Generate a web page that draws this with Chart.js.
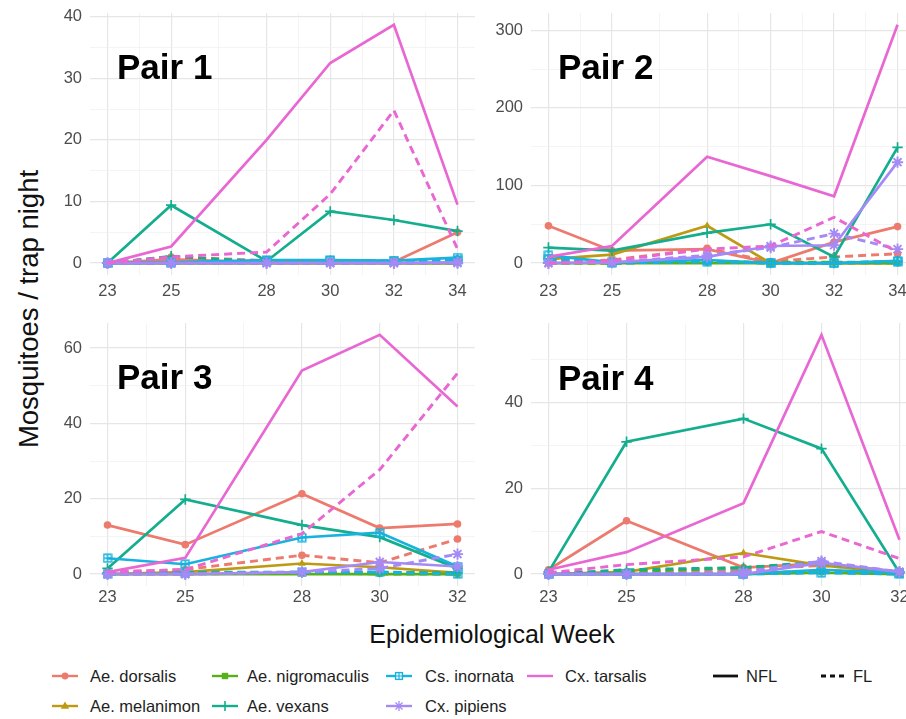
<!DOCTYPE html>
<html>
<head>
<meta charset="utf-8">
<title>Mosquitoes per trap night by epidemiological week</title>
<script src="https://cdn.jsdelivr.net/npm/chart.js@4.4.1/dist/chart.umd.min.js"></script>
<style>
  html, body { margin: 0; padding: 0; background: #fff; width: 906px; height: 719px; overflow: hidden; }
  body { position: relative; font-family: "Liberation Sans", Arial, Helvetica, sans-serif; }
  canvas { position: absolute; z-index: 1; }
  .pair { position: absolute; z-index: 2; font-weight: bold; font-size: 35px; line-height: 35px; color: #000; white-space: nowrap; }
  .ytitle { position: absolute; left: 29px; top: 309px; font-size: 27.5px; line-height: 27.5px; color: #111;
            white-space: nowrap; transform: translate(-50%, -50%) rotate(-90deg); }
  .xtitle { position: absolute; left: 492px; top: 622px; font-size: 25px; line-height: 25px; color: #111;
            white-space: nowrap; transform: translateX(-50%); }
  .lg-text { position: absolute; font-size: 16.5px; line-height: 16.5px; color: #1e1e1e; white-space: nowrap; }
  .lg-key { position: absolute; width: 26px; height: 14px; }
</style>
</head>
<body>

<div class="pair" style="left:117px; top:49px;">Pair 1</div>
<div class="pair" style="left:558px; top:49px;">Pair 2</div>
<div class="pair" style="left:117px; top:359px;">Pair 3</div>
<div class="pair" style="left:558px; top:360px;">Pair 4</div>
<div class="ytitle">Mosquitoes / trap night</div>
<div class="xtitle">Epidemiological Week</div>
<div id="legend"></div>

<script>
// ---- data -------------------------------------------------------------
const species = ['Ae. dorsalis', 'Ae. melanimon', 'Ae. nigromaculis', 'Ae. vexans',
                 'Cs. inornata', 'Cx. pipiens', 'Cx. tarsalis'];
const speciesColors = ['#EC7A6D', '#BE9A12', '#56B01A', '#14AE8E', '#17B2DE', '#A58AF5', '#E967D3'];
const speciesShapes = ['circle', 'triangle', 'square', 'plus', 'squarePlus', 'asterisk', 'none'];

const weeksLong = [23, 25, 28, 30, 32, 34];
const weeksShort = [23, 25, 28, 30, 32];
const weekTicksLong = [23, 25, 28, 30, 32, 34];
const weekTicksShort = [23, 25, 28, 30, 32];

// rows follow the species order above; NFL = solid, FL = dashed
const pair1NFL = [
  [0, 0.6, 0.1, 0.1, 0.2, 5.0],
  [0, 0, 0, 0, 0, 0],
  [0, 0, 0, 0, 0, 0],
  [0, 9.4, 0.3, 8.4, 7.0, 5.2],
  [0, 0.1, 0.5, 0.5, 0.4, 0.9],
  [0, 0, 0, 0, 0, 0.1],
  [0, 2.7, 20.0, 32.5, 38.7, 9.5]
];
const pair1FL = [
  [0, 1.0, 0.4, 0.3, 0.3, 0.6],
  [0, 0, 0, 0, 0, 0],
  [0, 0, 0, 0, 0, 0],
  [0, 1.1, 0.2, 0.4, 0.3, 0.5],
  [0, 0, 0.4, 0.4, 0.3, 0.5],
  [0, 0, 0, 0, 0, 0],
  [0, 1.0, 1.8, 11.2, 24.8, 2.3]
];
const pair2NFL = [
  [48, 16, 18, 0, 27, 47],
  [5, 11, 48, 0, 0, 0],
  [0, 0, 0, 0, 0, 0],
  [20, 16, 39, 50, 8, 149],
  [10, 1, 4, 0, 0, 3],
  [0, 1, 8, 22, 23, 130],
  [8, 22, 137, 112, 86, 307]
];
const pair2FL = [
  [0, 4, 19, 2, 8, 12],
  [0, 0, 2, 0, 0, 0],
  [0, 0, 2, 1, 1, 1],
  [5, 0, 3, 0, 0, 2],
  [5, 0, 2, 0, 0, 2],
  [0, 1, 10, 20, 38, 18],
  [0, 3, 18, 22, 59, 14]
];
const pair3NFL = [
  [13, 7.8, 21.3, 12.2, 13.3],
  [0, 0.5, 2.8, 1.8, 0.3],
  [0, 0, 0, 0, 0],
  [1.5, 19.8, 13, 9.8, 1.5],
  [4.2, 2.6, 9.7, 11, 2],
  [0, 0, 0.5, 3.2, 2],
  [0.5, 4.3, 54, 63.5, 44.5]
];
const pair3FL = [
  [0.5, 1.2, 5, 3, 9.3],
  [0, 0, 0.3, 0.3, 0],
  [0, 0.3, 0.3, 0, 0],
  [0.3, 0.5, 0.5, 0.5, 0.3],
  [0, 0.2, 0.5, 0.5, 0],
  [0, 0, 0.5, 1.5, 5.3],
  [0.5, 1.2, 10.7, 27.7, 53.3]
];
const pair4NFL = [
  [1, 12.4, 1.5, 2.5, 0.5],
  [0, 0.5, 4.9, 2, 0.3],
  [0, 0, 0, 0.3, 0],
  [0.5, 30.8, 36.2, 29.2, 0.3],
  [0, 0, 0, 1, 0.3],
  [0, 0, 0, 2.6, 0.5],
  [1, 5.1, 16.5, 55.7, 8]
];
const pair4FL = [
  [0.3, 0.5, 1, 2, 0.5],
  [0, 0, 0.5, 0.5, 0],
  [0, 0.5, 1.5, 2.5, 0.3],
  [0, 1, 1.5, 2.8, 0.3],
  [0, 0, 0, 0.3, 0],
  [0, 0, 0.5, 3, 0.5],
  [0.3, 2.2, 4, 9.9, 3.6]
];

const yTicks1 = [0, 10, 20, 30, 40];
const yTicks2 = [0, 100, 200, 300];
const yTicks3 = [0, 20, 40, 60];
const yTicks4 = [0, 20, 40];

// ---- drawing helpers --------------------------------------------------
const FONT = '"Liberation Sans", Arial, Helvetica, sans-serif';
const Y_AXIS_W = 60, X_AXIS_H = 30, PAD_TOP = 15;

// square with a plus inside, used as the Cs. inornata marker
function squarePlusImage(color) {
  const c = document.createElement('canvas');
  c.width = 10; c.height = 10;
  const g = c.getContext('2d');
  g.strokeStyle = color; g.lineWidth = 1.5;
  g.strokeRect(1.2, 1.2, 7.6, 7.6);
  g.beginPath(); g.moveTo(5, 1.2); g.lineTo(5, 8.8); g.moveTo(1.2, 5); g.lineTo(8.8, 5); g.stroke();
  return c;
}

function pointOptions(i) {
  const col = speciesColors[i];
  switch (speciesShapes[i]) {
    case 'circle':     return { pointStyle: 'circle', pointRadius: 3.8, pointBorderWidth: 0 };
    case 'triangle':   return { pointStyle: 'triangle', pointRadius: 4.4, pointBorderWidth: 0 };
    case 'square':     return { pointStyle: 'rect', pointRadius: 3.6, pointBorderWidth: 0 };
    case 'plus':       return { pointStyle: 'cross', pointRadius: 5.2, pointBorderWidth: 1.7 };
    case 'squarePlus': return { pointStyle: squarePlusImage(col), pointRadius: 5, pointBorderWidth: 0 };
    case 'asterisk':   return { pointStyle: 'star', pointRadius: 5.6, pointBorderWidth: 1.9 };
    default:           return { pointStyle: false, pointRadius: 0 };
  }
}

// minor grid positions sit halfway between consecutive major ticks
function midpoints(arr) {
  const out = [];
  for (let i = 0; i < arr.length - 1; i++) out.push((arr[i] + arr[i + 1]) / 2);
  return out;
}

function buildDatasets(weeks, nfl, fl) {
  const sets = [];
  // Chart.js paints dataset 0 last, so the final species ends up on top
  for (let s = species.length - 1; s >= 0; s--) {
    [['NFL', nfl], ['FL', fl]].forEach(([kind, table]) => {
      sets.push(Object.assign({
        label: species[s] + ' ' + kind,
        data: weeks.map((w, k) => ({ x: w, y: table[s][k] })),
        borderColor: speciesColors[s],
        backgroundColor: speciesColors[s],
        borderWidth: kind === 'FL' ? 2.9 : 2.7,
        borderDash: kind === 'FL' ? [8, 5] : [],
        tension: 0,
        fill: false
      }, pointOptions(s)));
    });
  }
  return sets;
}

function makePanel(area, weeks, xMajors, nfl, fl, yMajors, xLabelPad) {
  const canvas = document.createElement('canvas');
  const w = area.R - area.L + Y_AXIS_W;
  const h = area.B - area.T + PAD_TOP + X_AXIS_H;
  canvas.width = w; canvas.height = h;
  canvas.style.width = w + 'px'; canvas.style.height = h + 'px';
  canvas.style.left = (area.L - Y_AXIS_W) + 'px';
  canvas.style.top = (area.T - PAD_TOP) + 'px';
  document.body.appendChild(canvas);

  const xLo = weeks[0], xHi = weeks[weeks.length - 1];
  const xPad = (xHi - xLo) * 0.05;
  const yTop = Math.max(...nfl.flat(), ...fl.flat());
  const xMinors = midpoints(xMajors);
  let yMinors = midpoints(yMajors);
  const step = yMajors[1] - yMajors[0];
  if (yMajors[yMajors.length - 1] + step / 2 <= yTop * 1.05) yMinors.push(yMajors[yMajors.length - 1] + step / 2);

  const gridColor = (majors) => (ctx) => majors.includes(ctx.tick.value) ? '#e6e6e6' : '#f1f1f1';
  const gridWidth = (majors) => (ctx) => majors.includes(ctx.tick.value) ? 1.2 : 0.8;

  new Chart(canvas, {
    type: 'line',
    data: { datasets: buildDatasets(weeks, nfl, fl) },
    options: {
      responsive: false,
      animation: false,
      devicePixelRatio: 1,
      layout: { autoPadding: false, padding: { top: PAD_TOP, left: 0, right: 0, bottom: 0 } },
      plugins: { legend: { display: false }, tooltip: { enabled: false } },
      events: [],
      scales: {
        x: {
          type: 'linear',
          min: xLo - xPad,
          max: xHi + xPad,
          afterBuildTicks: (sc) => { sc.ticks = [...xMajors, ...xMinors].sort((a, b) => a - b).map(v => ({ value: v })); },
          afterFit: (sc) => { sc.height = X_AXIS_H; },
          ticks: {
            autoSkip: false, maxRotation: 0, padding: xLabelPad,
            color: '#4d4d4d', font: { family: FONT, size: 16.5 },
            callback: (v) => xMajors.includes(v) ? String(v) : ''
          },
          grid: { color: gridColor(xMajors), lineWidth: gridWidth(xMajors), drawTicks: false },
          border: { display: false }
        },
        y: {
          type: 'linear',
          min: -yTop * 0.05,
          max: yTop * 1.05,
          afterBuildTicks: (sc) => { sc.ticks = [...yMajors, ...yMinors].sort((a, b) => a - b).map(v => ({ value: v })); },
          afterFit: (sc) => { sc.width = Y_AXIS_W; },
          ticks: {
            autoSkip: false, padding: 8,
            color: '#4d4d4d', font: { family: FONT, size: 16.5 },
            callback: (v) => yMajors.includes(v) ? String(v) : ''
          },
          grid: { color: gridColor(yMajors), lineWidth: gridWidth(yMajors), drawTicks: false },
          border: { display: false }
        }
      }
    }
  });
}

makePanel({ L: 90,  R: 475, T: 10,  B: 275 }, weeksLong,  weekTicksLong,  pair1NFL, pair1FL, yTicks1, 7);
makePanel({ L: 531, R: 915, T: 10,  B: 275 }, weeksLong,  weekTicksLong,  pair2NFL, pair2FL, yTicks2, 7);
makePanel({ L: 90,  R: 475, T: 320, B: 586 }, weeksShort, weekTicksShort, pair3NFL, pair3FL, yTicks3, 2);
makePanel({ L: 531, R: 917, T: 320, B: 586 }, weeksShort, weekTicksShort, pair4NFL, pair4FL, yTicks4, 2);

// ---- legend -----------------------------------------------------------
function markerSvg(shape, col) {
  switch (shape) {
    case 'circle':     return `<circle cx="13" cy="7" r="3.4" fill="${col}"/>`;
    case 'triangle':   return `<polygon points="13,2.6 17.2,9.8 8.8,9.8" fill="${col}"/>`;
    case 'square':     return `<rect x="9.8" y="3.8" width="6.4" height="6.4" fill="${col}"/>`;
    case 'plus':       return `<path d="M13 2v10M8 7h10" stroke="${col}" stroke-width="1.6"/>`;
    case 'squarePlus': return `<rect x="9.6" y="3.6" width="6.8" height="6.8" fill="#fff" stroke="${col}" stroke-width="1.4"/><path d="M13 3.6v6.8M9.6 7h6.8" stroke="${col}" stroke-width="1.2"/>`;
    case 'asterisk':   return `<path d="M13 2v10M8 7h10M9.5 3.5l7 7M16.5 3.5l-7 7" stroke="${col}" stroke-width="1.3"/>`;
    default:           return '';
  }
}

const legendSlots = [
  { idx: 0, key: 52,  text: 90,  row: 0 },
  { idx: 2, key: 212, text: 247, row: 0 },
  { idx: 4, key: 386, text: 425, row: 0 },
  { idx: 6, key: 527, text: 565, row: 0 },
  { idx: 1, key: 52,  text: 90,  row: 1 },
  { idx: 3, key: 212, text: 247, row: 1 },
  { idx: 5, key: 386, text: 425, row: 1 }
];
const rowCenters = [676, 706];
const legend = document.getElementById('legend');
let html = '';
legendSlots.forEach(sl => {
  const col = speciesColors[sl.idx];
  const cy = rowCenters[sl.row];
  html += `<svg class="lg-key" style="left:${sl.key}px; top:${cy - 7}px" viewBox="0 0 26 14">` +
          `<line x1="0" y1="7" x2="26" y2="7" stroke="${col}" stroke-width="2.4"/>` +
          markerSvg(speciesShapes[sl.idx], col) + `</svg>`;
  html += `<div class="lg-text" style="left:${sl.text}px; top:${cy - 8}px">${species[sl.idx]}</div>`;
});
// line-type keys
html += `<svg class="lg-key" style="left:713px; top:${rowCenters[0] - 7}px" viewBox="0 0 26 14">` +
        `<line x1="0" y1="7" x2="25" y2="7" stroke="#111" stroke-width="2.8"/></svg>`;
html += `<div class="lg-text" style="left:746px; top:${rowCenters[0] - 8}px">NFL</div>`;
html += `<svg class="lg-key" style="left:821px; top:${rowCenters[0] - 7}px" viewBox="0 0 26 14">` +
        `<line x1="0" y1="7" x2="26" y2="7" stroke="#111" stroke-width="2.8" stroke-dasharray="5 4"/></svg>`;
html += `<div class="lg-text" style="left:853px; top:${rowCenters[0] - 8}px">FL</div>`;
legend.innerHTML = html;
</script>
</body>
</html>
